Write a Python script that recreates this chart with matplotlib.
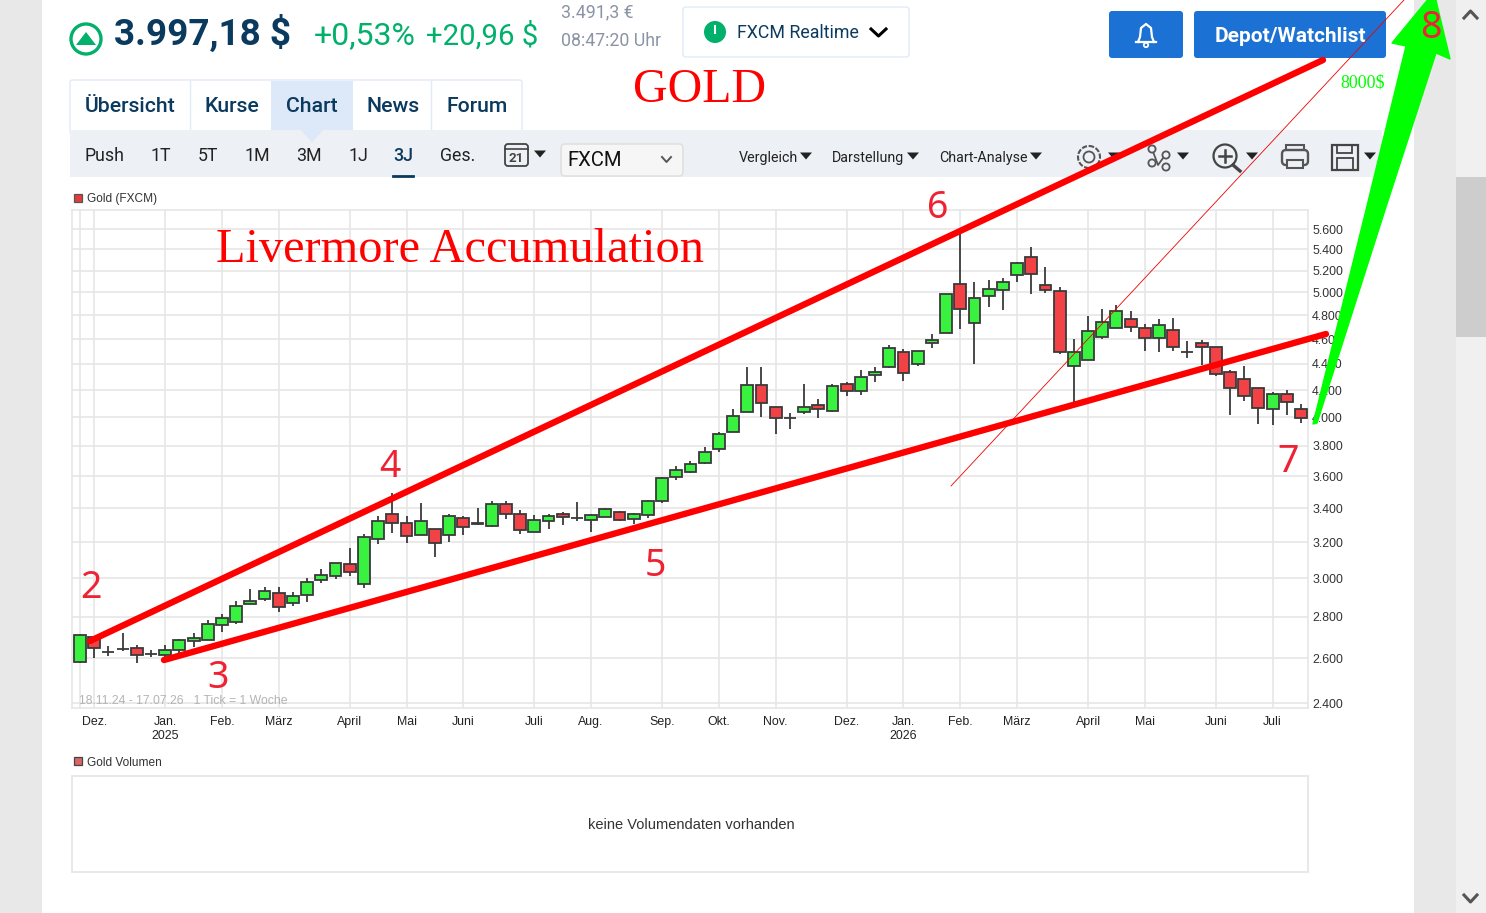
import matplotlib
matplotlib.use("Agg")
import matplotlib.pyplot as plt
import numpy as np
from matplotlib.patches import Rectangle, Circle, Polygon, FancyBboxPatch
from matplotlib.ticker import NullLocator

# weekly candles, Gold (FXCM), 18.11.24 - 17.07.26
opens = [2583, 2701, 2629, 2643, 2648, 2620, 2615, 2639, 2681, 2686, 2759, 2774, 2865, 2890, 2922,
         2870, 2911, 2990, 3012, 3077, 2969, 3218, 3365, 3311, 3241, 3276, 3241, 3341, 3305, 3293,
         3426, 3365, 3258, 3323, 3365, 3341, 3329, 3347, 3377, 3335, 3359, 3444, 3595, 3627, 3686,
         3779, 3896, 4038, 4238, 4074, 3995, 4038, 4088, 4045, 4245, 4192, 4314, 4376, 4495, 4400,
         4568, 4650, 5076, 4734, 4968, 5022, 5158, 5327, 5067, 5013, 4384, 4431, 4617, 4692, 4768,
         4692, 4609, 4675, 4495, 4568, 4536, 4337, 4284, 4215, 4059, 4170, 4059]
highs = [2715, 2705, 2658, 2720, 2662, 2639, 2662, 2691, 2720, 2784, 2814, 2880, 2943, 2953, 2953,
         2927, 3001, 3050, 3083, 3166, 3247, 3353, 3494, 3353, 3432, 3276, 3365, 3353, 3401, 3444,
         3444, 3389, 3359, 3365, 3377, 3438, 3365, 3401, 3383, 3371, 3450, 3595, 3667, 3699, 3793,
         3896, 4060, 4376, 4376, 4074, 4031, 4245, 4133, 4245, 4260, 4353, 4376, 4552, 4519, 4503,
         4642, 4986, 5561, 5094, 5113, 5131, 5280, 5423, 5233, 5049, 4601, 4794, 4855, 4889, 4837,
         4726, 4768, 4777, 4584, 4592, 4536, 4353, 4384, 4215, 4185, 4200, 4096]
lows = [2578, 2601, 2610, 2634, 2578, 2606, 2601, 2624, 2653, 2686, 2725, 2764, 2865, 2880, 2824,
        2855, 2875, 2974, 2996, 3012, 2947, 3189, 3252, 3195, 3241, 3116, 3200, 3241, 3299, 3288,
        3335, 3247, 3258, 3276, 3299, 3323, 3258, 3347, 3323, 3305, 3341, 3432, 3576, 3621, 3679,
        3759, 3896, 4038, 4002, 3882, 3917, 4024, 3995, 4038, 4155, 4162, 4260, 4368, 4268, 4384,
        4527, 4650, 4684, 4400, 4872, 4846, 5094, 4986, 4995, 4479, 4111, 4431, 4601, 4692, 4659,
        4503, 4495, 4503, 4447, 4392, 4307, 4016, 4118, 3952, 3945, 4016, 3959]
closes = [2710, 2648, 2630, 2645, 2615, 2619, 2639, 2686, 2696, 2764, 2794, 2855, 2880, 2932, 2850,
          2906, 2980, 3017, 3083, 3033, 3229, 3323, 3311, 3235, 3323, 3195, 3353, 3288, 3311, 3426,
          3365, 3270, 3329, 3353, 3347, 3340, 3359, 3395, 3329, 3365, 3444, 3589, 3641, 3679, 3759,
          3882, 4009, 4238, 4103, 3995, 3996, 4074, 4059, 4230, 4192, 4298, 4337, 4527, 4330, 4503,
          4592, 4986, 4855, 4951, 5031, 5094, 5270, 5168, 5022, 4495, 4495, 4667, 4743, 4837, 4700,
          4609, 4717, 4536, 4494, 4536, 4322, 4215, 4155, 4067, 4170, 4111, 3995]

month_pos = [1, 6, 10, 14, 19, 23, 27, 32, 36, 41, 45, 49, 54, 58, 62, 66, 71, 75, 80, 84]
month_labels = ["Dez.", "Jan.\n2025", "Feb.", "März", "April", "Mai", "Juni", "Juli", "Aug.", "Sep.", "Okt.",
                "Nov.", "Dez.", "Jan.\n2026", "Feb.", "März", "April", "Mai", "Juni", "Juli"]
price_ticks = [2400, 2600, 2800, 3000, 3200, 3400, 3600, 3800, 4000, 4200, 4400, 4600, 4800, 5000, 5200, 5400, 5600]
price_labels = ["2.400", "2.600", "2.800", "3.000", "3.200", "3.400", "3.600", "3.800", "4.000", "4.200",
                "4.400", "4.600", "4.800", "5.000", "5.200", "5.400", "5.600"]

W, H = 1486, 913
UI = "Roboto"
NAVY = "#0b3a5f"
GREEN = "#00b06b"
BLUE = "#1c72d4"
TOOLBAR = "#edf0f4"
EDGE = "#e2eaf8"
RED = "#ff0000"
NUM_RED = "#ee2233"
LIME = "#00ff00"
GRID = "#e6e6e6"

fig = plt.figure(figsize=(W / 100, H / 100), dpi=100, facecolor="white")

# page background sits below the chart
bg = fig.add_axes([0, 0, 1, 1], zorder=0)
bg.set_xlim(0, W)
bg.set_ylim(H, 0)
bg.axis("off")
bg.add_patch(Rectangle((0, 0), 42, H, fc="#e8e8e8", ec="none"))
bg.add_patch(Rectangle((1414, 0), 42, H, fc="#e8e8e8", ec="none"))
bg.add_patch(Rectangle((1456, 0), 30, H, fc="#f0f0f0", ec="none"))
bg.add_patch(Rectangle((1456, 177), 30, 160, fc="#cdcdcd", ec="none"))

# candle chart
ax = fig.add_axes([72 / W, 1 - 708 / H, (1308 - 72) / W, (708 - 210) / H], zorder=1)
x = np.arange(len(opens))
opens = np.array(opens)
closes = np.array(closes)
up = closes >= opens
ax.set_yscale("log")
ax.set_xlim(-0.56, 86.49)
ax.set_ylim(2379, 5794)

ax.vlines(x, lows, highs, color="#3a3a3a", lw=1.3, zorder=3)
bottoms = np.minimum(opens, closes)
heights = np.abs(closes - opens)
ax.bar(x[up], heights[up], bottom=bottoms[up], width=0.84, color="#38f23f", edgecolor="#3a3a3a", lw=1.3, zorder=4)
ax.bar(x[~up], heights[~up], bottom=bottoms[~up], width=0.84, color="#f24246", edgecolor="#3a3a3a", lw=1.3, zorder=4)

ax.set_yticks(price_ticks)
ax.set_yticklabels(price_labels)
ax.yaxis.set_minor_locator(NullLocator())
ax.set_xticks(month_pos)
ax.set_xticklabels(month_labels, linespacing=1.15)
ax.yaxis.tick_right()
ax.tick_params(axis="y", length=0, pad=3, labelsize=8.9, labelcolor="#333333", labelfontfamily="Liberation Sans")
ax.tick_params(axis="x", length=0, pad=6, labelsize=8.9, labelcolor="#222222", labelfontfamily="Liberation Sans")
ax.grid(True, color=GRID, lw=1.2)
ax.set_axisbelow(True)
ax.axvline(0, color=GRID, lw=1.2, zorder=0)
for s in ax.spines.values():
    s.set_color(GRID)
    s.set_linewidth(1.2)

# page overlay: header, toolbar and the hand drawn annotations
pg = fig.add_axes([0, 0, 1, 1], zorder=2)
pg.set_xlim(0, W)
pg.set_ylim(H, 0)
pg.axis("off")
pg.patch.set_alpha(0)


def txt(px, py, s, size, color=NAVY, family=UI, weight="normal", ha="left", va="center", z=5):
    return pg.text(px, py, s, fontsize=size, color=color, family=family, fontweight=weight, ha=ha, va=va, zorder=z)


def box(x0, y0, x1, y1, fc, ec="none", r=3, lw=1.0, z=2):
    pg.add_patch(FancyBboxPatch((x0 + r, y0 + r), x1 - x0 - 2 * r, y1 - y0 - 2 * r,
                                boxstyle="round,pad=%d" % r, fc=fc, ec=ec, lw=lw, zorder=z))


def tri(cx, cy, w=12, h=7, color="#222222"):
    pg.add_patch(Polygon([(cx - w / 2, cy - h / 2), (cx + w / 2, cy - h / 2), (cx, cy + h / 2)], fc=color, ec="none", zorder=4))


# header
pg.add_patch(Circle((86, 39), 15, fc="white", ec=GREEN, lw=2.4))
pg.add_patch(Polygon([(76, 45), (96, 45), (86, 32)], fc=GREEN, ec="none"))
txt(114, 34, "3.997,18 $", 26.6, weight="bold")
txt(314, 36, "+0,53%", 23, color=GREEN)
txt(426, 36, "+20,96 $", 21.2, color=GREEN)
txt(561, 12.5, "3.491,3 €", 12.8, color="#8a94a6")
txt(561, 40.5, "08:47:20 Uhr", 12.8, color="#8a94a6")

box(683, 7, 909, 57, "white", EDGE)
pg.add_patch(Circle((715, 32), 11, fc=GREEN, ec="none", zorder=3))
pg.plot([715, 715], [26, 33], color="white", lw=1.5, zorder=4)
txt(737, 33.5, "FXCM Realtime", 12.8, color=NAVY)
pg.plot([871, 878.5, 886], [29, 36, 29], color="black", lw=2.2, zorder=4)

box(1109, 11, 1183, 58, BLUE)
box(1194, 11, 1386, 58, BLUE)
txt(1215, 36, "Depot/Watchlist", 15, color="white", weight="bold")
# bell
pg.plot([1136, 1156], [42, 42], color="white", lw=1.6, zorder=4)
pg.plot([1138, 1140, 1141, 1146, 1151, 1152, 1154],
        [42, 37, 28, 24, 28, 37, 42], color="white", lw=1.6, zorder=4)
pg.add_patch(Circle((1146, 45), 2.2, fc="none", ec="white", lw=1.3, zorder=4))

# tabs
box(70, 80, 522, 134, "white", EDGE, r=2)
pg.add_patch(Rectangle((271, 81), 82, 49, fc="#dde8f8", ec="none", zorder=3))
for sep in [190, 431]:
    pg.plot([sep, sep], [81, 130], color=EDGE, lw=1, zorder=3)
for tx, label in zip([85, 204, 286, 366, 446], ["Übersicht", "Kurse", "Chart", "News", "Forum"]):
    txt(tx, 107, label, 15.3, weight="medium")

# toolbar
pg.add_patch(Rectangle((70, 130), 1312, 47, fc=TOOLBAR, ec="none", zorder=3))
pg.add_patch(Polygon([(301, 130), (323, 130), (312, 142)], fc="#dde8f8", ec="none", zorder=3))
for tx, label in zip([84, 151, 198, 245, 296, 348, 393, 440], ["Push", "1T", "5T", "1M", "3M", "1J", "3J", "Ges."]):
    txt(tx, 156, label, 12.8, color=NAVY if label == "3J" else "#222222", weight="medium" if label == "3J" else "normal")
pg.plot([393, 413], [176, 176], color=NAVY, lw=2, zorder=4)
box(505, 144, 528, 166, "none", "#444444", r=3, lw=1.3, z=4)
pg.plot([505, 528], [149, 149], color="#444444", lw=1.2, zorder=4)
txt(516.5, 158, "21", 9.5, color="#444444", weight="bold", ha="center")
tri(540, 154)
box(561, 144, 683, 176, "#f6f6f6", "#dddddd", r=4, z=4)
txt(567, 161, "FXCM", 14.6, color="#111111")
pg.plot([662, 666.5, 671], [157, 162, 157], color="#555555", lw=1.4, zorder=5)
for tx, tri_x, label in zip([739, 832, 939], [806, 913, 1036], ["Vergleich", "Darstellung", "Chart-Analyse"]):
    txt(tx, 158, label, 10.3, color="#222222")
    tri(tri_x, 156)
# gear
pg.add_patch(Circle((1089, 157), 11, fc="none", ec="#555555", lw=1.5, ls=(0, (2.5, 0.8)), zorder=4))
pg.add_patch(Circle((1089, 157), 5.5, fc="none", ec="#555555", lw=1.3, zorder=4))
tri(1114, 156)
# network
pg.plot([1152, 1158, 1166], [149, 165, 154], color="#555555", lw=1.3, zorder=4)
for nx, ny in [(1152, 149), (1166, 155), (1152, 163), (1166, 167)]:
    pg.add_patch(Circle((nx, ny), 3.6, fc=TOOLBAR, ec="#555555", lw=1.3, zorder=5))
tri(1183, 156)
# magnifier
pg.add_patch(Circle((1225, 156), 11.5, fc="none", ec="#444444", lw=1.6, zorder=4))
pg.plot([1233, 1240], [165, 171], color="#444444", lw=2.4, zorder=4)
pg.plot([1219, 1231], [156, 156], color="#444444", lw=1.8, zorder=4)
pg.plot([1225, 1225], [150, 162], color="#444444", lw=1.8, zorder=4)
tri(1252, 156)
# printer
box(1282, 150, 1308, 165, "none", "#555555", r=4, lw=1.7, z=4)
pg.add_patch(Rectangle((1286, 145), 18, 5, fc="none", ec="#555555", lw=1.5, zorder=4))
pg.add_patch(Rectangle((1287, 160), 16, 8, fc=TOOLBAR, ec="#555555", lw=1.5, zorder=5))
# floppy
pg.add_patch(Rectangle((1332, 145), 26, 25, fc="none", ec="#444444", lw=1.6, zorder=4))
pg.add_patch(Rectangle((1337, 145), 15, 8, fc="none", ec="#444444", lw=1.3, zorder=4))
pg.add_patch(Rectangle((1337, 158), 16, 12, fc="none", ec="#444444", lw=1.3, zorder=4))
tri(1370, 156)

# legends and empty volume pane
pg.add_patch(Rectangle((74, 194), 8, 8, fc="#e23b3b", ec="#555555", lw=0.9))
txt(87, 199, "Gold (FXCM)", 8.6, color="#333333", family="Liberation Sans")
txt(79, 701, "18.11.24 - 17.07.26   1 Tick = 1 Woche", 8.85, color="#b4b4b4", family="Liberation Sans")
pg.add_patch(Rectangle((74, 757), 8, 8, fc="#d96666", ec="#444444", lw=0.9))
txt(87, 763, "Gold Volumen", 8.6, color="#333333", family="Liberation Sans")
pg.add_patch(Rectangle((72, 776), 1236, 96, fc="white", ec=GRID, lw=1.3))
txt(691, 825, "keine Volumendaten vorhanden", 10.5, color="#333333", family="Liberation Sans", ha="center")

# scrollbar arrows
pg.plot([1464, 1470.5, 1477], [18, 11, 18], color="#555555", lw=2.2, zorder=4)
pg.plot([1464, 1470.5, 1477], [895, 902, 895], color="#555555", lw=2.2, zorder=4)

# hand drawn trend lines and labels
pg.plot([951, 1404], [486, 0], color="#ee0000", lw=0.6, zorder=6)
pg.plot([90, 1323], [641, 60], color=RED, lw=4.6, solid_capstyle="round", zorder=6)
pg.plot([164, 1326], [660, 334], color=RED, lw=4.6, solid_capstyle="round", zorder=6)
pg.add_patch(Polygon([(1313, 424), (1366, 210), (1406, 46), (1392, 43), (1434, -8), (1450, 59), (1436, 53), (1385, 210), (1317, 423)],
                     fc=LIME, ec=LIME, lw=1.0, joinstyle="round", zorder=7))
txt(633, 90, "GOLD", 34.5, color=RED, family="Liberation Serif", z=8)
txt(216, 250, "Livermore Accumulation", 34.8, color=RED, family="Liberation Serif", z=8)
txt(1340, 83, "8000$", 13, color=LIME, family="Liberation Serif", z=8)
for nx, ny, label in [(91, 588, "2"), (218, 678, "3"), (390, 467, "4"), (655, 566, "5"),
                      (938, 208, "6"), (1288, 462, "7"), (1431, 28, "8")]:
    txt(nx, ny, label, 27, color=NUM_RED, family="Noto Sans", ha="center", z=8)

fig.savefig("out.png", dpi=100)
